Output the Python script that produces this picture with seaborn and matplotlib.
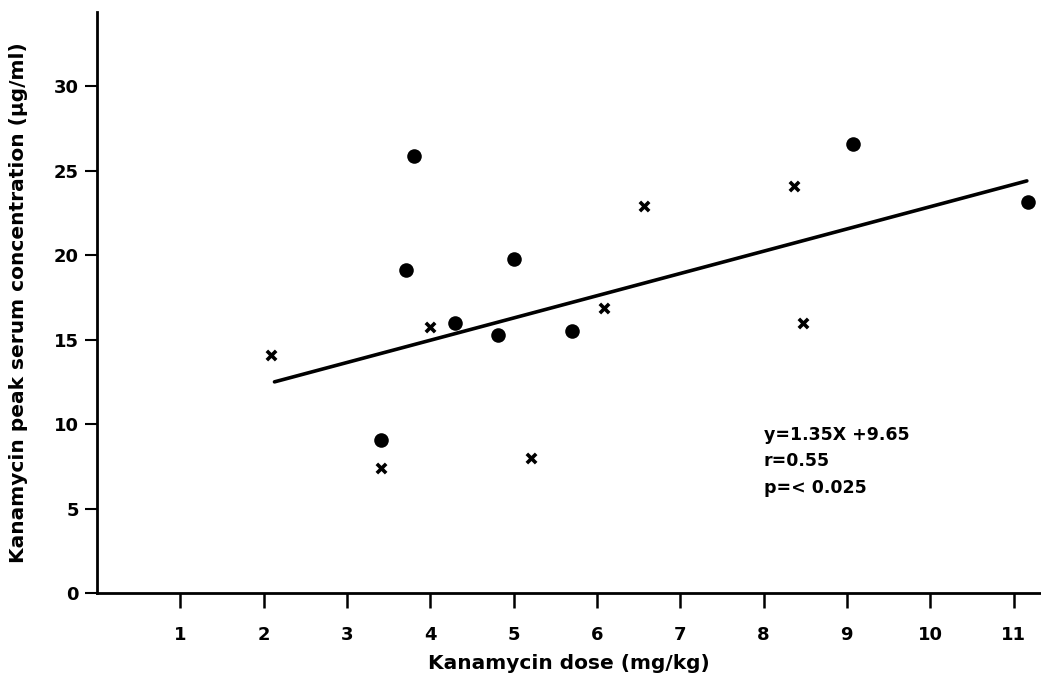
import matplotlib
matplotlib.use('Agg')
import matplotlib.pyplot as plt
import seaborn as sns
import pandas as pd

# Datos
circle_dose = [3.41, 3.71, 3.80, 4.30, 4.81, 5.00, 5.70, 9.07, 11.17]
circle_conc = [9.05, 19.15, 25.9, 15.96, 15.27, 19.8, 15.5, 26.57, 23.15]

cross_dose = [2.09, 3.41, 4.00, 5.21, 6.08, 6.57, 8.37, 8.47]
cross_conc = [14.07, 7.38, 15.76, 8.0, 16.9, 22.9, 24.12, 15.99]

fit_dose = [2.13, 11.16]
fit_conc = [12.5, 24.4]

x_ticks = [1, 2, 3, 4, 5, 6, 7, 8, 9, 10, 11]
y_ticks = [0, 5, 10, 15, 20, 25, 30]

stats_text = "y=1.35X +9.65\nr=0.55\np=< 0.025"

sns.set_style('white')
plt.rcParams['font.family'] = ['DejaVu Sans']
plt.rcParams['font.weight'] = 'bold'
plt.rcParams['text.color'] = 'black'
plt.rcParams['axes.labelcolor'] = 'black'

fig = plt.figure(figsize=(10.41, 6.79), dpi=100)
ax = fig.add_axes([0.0932, 0.1267, 0.9068, 0.8556])

df_c = pd.DataFrame({'dose': circle_dose, 'conc': circle_conc})
df_x = pd.DataFrame({'dose': cross_dose, 'conc': cross_conc})

sns.scatterplot(data=df_c, x='dose', y='conc', ax=ax, marker='o', s=110,
                color='black', edgecolor='black', linewidth=0)
sns.scatterplot(data=df_x, x='dose', y='conc', ax=ax, marker='x', s=45,
                color='black', linewidth=2.6)
sns.lineplot(x=fit_dose, y=fit_conc, ax=ax, color='black', linewidth=2.6)

ax.set_xlim(0, 11.33)
ax.set_ylim(0, 34.4)
ax.set_xticks(x_ticks)
ax.set_yticks(y_ticks)

for side in ['top', 'right']:
    ax.spines[side].set_visible(False)
for side in ['left', 'bottom']:
    ax.spines[side].set_color('black')
    ax.spines[side].set_linewidth(2.0)

ax.tick_params(axis='x', bottom=True, direction='out', length=11, width=1.8, pad=13,
               labelsize=13, colors='black')
ax.tick_params(axis='y', left=True, direction='out', length=9, width=1.5, pad=4,
               labelsize=13, colors='black')
for lbl in ax.get_xticklabels() + ax.get_yticklabels():
    lbl.set_fontweight('bold')

ax.set_xlabel('Kanamycin dose (mg/kg)', fontsize=14.5, fontweight='bold',
              labelpad=7, color='black')
ax.set_ylabel('Kanamycin peak serum concentration (µg/ml)', fontsize=14.5,
              fontweight='bold', labelpad=19, color='black')

ax.text(8.0, 9.9, stats_text, fontsize=12.5, fontweight='bold', color='black',
        va='top', ha='left', linespacing=1.6)

plt.savefig('out.png', dpi=100)
